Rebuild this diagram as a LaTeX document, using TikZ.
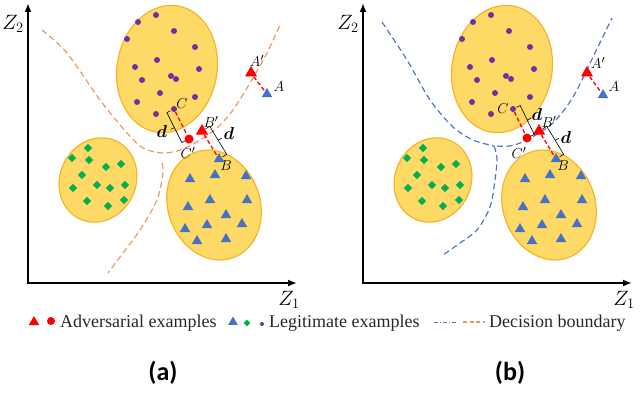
\documentclass[tikz,border=0pt]{standalone}
\usepackage{amsmath}
\usepackage{fontspec}
\setmainfont{Liberation Serif}
\newfontfamily\panelfont{Carlito}
\usetikzlibrary{shapes.geometric,arrows.meta,calc}

\definecolor{clusterfill}{RGB}{255,217,102}
\definecolor{clusterline}{RGB}{242,182,40}
\definecolor{legpurple}{RGB}{112,48,160}
\definecolor{leggreen}{RGB}{0,176,80}
\definecolor{legblue}{RGB}{68,114,196}
\definecolor{advred}{RGB}{255,0,0}
\definecolor{bndorange}{RGB}{238,150,100}
\definecolor{bndblue}{RGB}{80,120,200}

\tikzset{
  cluster/.style={fill=clusterfill, draw=clusterline, line width=1.2pt},
  axisline/.style={line width=2pt, {Latex[length=9pt,width=7pt]}-{Latex[length=9pt,width=7pt]}},
  purpledot/.style={circle, fill=legpurple, inner sep=0pt, minimum size=6pt},
  greendia/.style={diamond, fill=leggreen, inner sep=0pt, minimum size=8.5pt},
  bluetri/.style={regular polygon, regular polygon sides=3, fill=legblue, inner sep=0pt, minimum size=12pt},
  redtri/.style={regular polygon, regular polygon sides=3, fill=advred, inner sep=0pt, minimum size=14pt},
  reddot/.style={circle, fill=advred, inner sep=0pt, minimum size=9pt},
  advline/.style={advred, line width=1.3pt, dash pattern=on 4pt off 2.5pt},
  bracketline/.style={black, line width=0.6pt},
  bnda/.style={bndorange, line width=1.2pt, dash pattern=on 6pt off 3.5pt},
  bndb/.style={bndblue, line width=1.2pt, dash pattern=on 6pt off 3.5pt},
  ptlabel/.style={font=\fontsize{15}{15}\selectfont, inner sep=0pt},
  dlabel/.style={font=\fontsize{17}{17}\selectfont, inner sep=0pt},
  zlabel/.style={font=\fontsize{21}{21}\selectfont, inner sep=0pt},
  legtext/.style={font=\fontsize{18}{18}\selectfont, inner sep=0pt, anchor=west, text=black!85},
  panellabel/.style={font=\panelfont\bfseries\fontsize{26}{26}\selectfont, inner sep=0pt}
}

\begin{document}
\begin{tikzpicture}[x=1pt,y=-1pt]
    \useasboundingbox (0,0) rectangle (640,404);

    %% both panels share axes, clusters and legitimate points
    \foreach \dx/\p in {0/a,335/b}{
    \begin{scope}[shift={(\dx,0)}]
    \draw[cluster] (167,69) ellipse [x radius=50, y radius=64, rotate=-10];
    \draw[cluster] (98,180) ellipse [x radius=38, y radius=43, rotate=-25];
    \draw[cluster] (214,205) ellipse [x radius=46, y radius=56, rotate=20];
    \draw[axisline] (28,3) -- (28,283) -- (297,283);
    \node[zlabel] (z2\p) at (13,24) {$Z_2$};
    \node[zlabel] (z1\p) at (289,300) {$Z_1$};
    \foreach \x/\y [count=\i] in {138/22,156/15,174/31,127/39,195/47,157/60,135/67,199/69,142/80,171/76,176/79,160/93,195/97,137/102,156/114}{
    \node[purpledot] (pu\p\i) at (\x,\y) {};
    }
    \foreach \x/\y [count=\i] in {72/158,88/148,89/160,106/167,121/164,82/175,97/185,73/188,110/188,125/185,87/201,108/206,124/200}{
    \node[greendia] (gr\p\i) at (\x,\y) {};
    }
    \foreach \x/\y [count=\i] in {215/175,190/179,246/176,188/207,210/200,247/200,226/215,185/229,207/225,242/224,197/241,226/239}{
    \node[bluetri] (bl\p\i) at (\x,\y) {};
    }
    \end{scope}
    }

    %% panel (a): orange boundary
    \draw[bnda] plot[smooth] coordinates {(42,30) (67,53) (100,100) (127,133) (143,148) (162,153) (180,150) (200,140) (217,128) (233,110) (250,83) (267,53) (280,25)};
    \draw[bnda] plot[smooth] coordinates {(162,163) (163,173) (157,200) (140,230) (123,253) (108,273)};

    \node[bluetri] (Aa) at (267,94) {};
    \node[redtri] (Apa) at (251,73) {};
    \node[purpledot] (Ca) at (174,109) {};
    \node[reddot] (Cpa) at (189,139) {};
    \node[bluetri] (Ba) at (219,159) {};
    \node[redtri] (Bpa) at (202,131) {};
    \draw[advline] (Apa) -- (Aa);
    \draw[advline] (Ca) -- (Cpa);
    \draw[advline] (Bpa) -- (Ba);
    \node[ptlabel] (lApa) at (257,61) {$A'$};
    \node[ptlabel] (lAa) at (279,87) {$A$};
    \node[ptlabel] (lCa) at (182,104) {$C$};
    \node[ptlabel] (lCpa) at (188,153) {$C'$};
    \node[ptlabel] (lBpa) at (211,122) {$B'$};
    \node[ptlabel] (lBa) at (226,166) {$B$};

    \coordinate (ma) at ($(Ca)!0.5!(Cpa)$);
    \draw[bracketline] ($(Ca)!4pt!-90:(Cpa)$) -- ($(Ca)!8pt!-90:(Cpa)$) -- ($(Cpa)!8pt!90:(Ca)$) -- ($(Cpa)!4pt!90:(Ca)$);
    \draw[bracketline] ($(ma)!8pt!-90:(Cpa)$) -- ($(ma)!12pt!-90:(Cpa)$);
    \node[dlabel] (d1a) at (162,131) {$\boldsymbol{d}$};
    \coordinate (na) at ($(Bpa)!0.5!(Ba)$);
    \draw[bracketline] ($(Bpa)!4pt!90:(Ba)$) -- ($(Bpa)!9pt!90:(Ba)$) -- ($(Ba)!9pt!-90:(Bpa)$) -- ($(Ba)!4pt!-90:(Bpa)$);
    \draw[bracketline] ($(na)!9pt!90:(Ba)$) -- ($(na)!13pt!90:(Ba)$);
    \node[dlabel] (d2a) at (229,133) {$\boldsymbol{d}$};

    %% panel (b): blue boundary
    \draw[bndb] plot[smooth] coordinates {(382,22) (407,60) (430,100) (453,127) (473,140) (494,146)};
    \draw[bndb] plot[smooth] coordinates {(494,146) (497,158) (495,180) (490,207) (477,230) (460,243) (443,255)};
    \draw[bndb] plot[smooth] coordinates {(497,146) (510,146) (527,140) (553,123) (573,97) (593,57) (612,18)};

    \node[bluetri] (Ab) at (603,95) {};
    \node[redtri] (Apb) at (587,73) {};
    \node[purpledot] (Cb) at (513,109) {};
    \node[reddot] (Cpb) at (527,138) {};
    \node[bluetri] (Bb) at (556,159) {};
    \node[redtri] (Bpb) at (539,131) {};
    \draw[advline] (Apb) -- (Ab);
    \draw[advline] (Cb) -- (Cpb);
    \draw[advline] (Bpb) -- (Bb);
    \node[ptlabel] (lApb) at (598,63) {$A'$};
    \node[ptlabel] (lAb) at (614,87) {$A$};
    \node[ptlabel] (lCb) at (503,109) {$C$};
    \node[ptlabel] (lCpb) at (519,153) {$C'$};
    \node[ptlabel] (lBpb) at (549,122) {$B'$};
    \node[ptlabel] (lBb) at (563,166) {$B$};

    \coordinate (mb) at ($(Cb)!0.5!(Cpb)$);
    \draw[bracketline] ($(Cb)!4pt!90:(Cpb)$) -- ($(Cb)!8pt!90:(Cpb)$) -- ($(Cpb)!8pt!-90:(Cb)$) -- ($(Cpb)!4pt!-90:(Cb)$);
    \draw[bracketline] ($(mb)!8pt!90:(Cpb)$) -- ($(mb)!12pt!90:(Cpb)$);
    \node[dlabel] (d1b) at (537,115) {$\boldsymbol{d}$};
    \coordinate (nb) at ($(Bpb)!0.5!(Bb)$);
    \draw[bracketline] ($(Bpb)!4pt!90:(Bb)$) -- ($(Bpb)!9pt!90:(Bb)$) -- ($(Bb)!9pt!-90:(Bpb)$) -- ($(Bb)!4pt!-90:(Bpb)$);
    \draw[bracketline] ($(nb)!9pt!90:(Bb)$) -- ($(nb)!13pt!90:(Bb)$);
    \node[dlabel] (d2b) at (566,137) {$\boldsymbol{d}$};

    %% legend
    \node[redtri,minimum size=12pt] (lg1) at (34,322) {};
    \node[reddot,minimum size=8pt] (lg2) at (51,321) {};
    \node[legtext] (lgt1) at (60,323) {Adversarial examples};
    \node[bluetri,minimum size=11pt] (lg3) at (233,322) {};
    \node[greendia,minimum size=7pt] (lg4) at (247,323) {};
    \node[purpledot,minimum size=4pt] (lg5) at (262,324) {};
    \node[legtext] (lgt2) at (269,323) {Legitimate examples};
    \coordinate (lb1) at (434,322);
    \coordinate (lb2) at (458,322);
    \coordinate (lb3) at (463,322);
    \coordinate (lb4) at (485,322);
    \draw[bndblue, line width=1pt, dash pattern=on 4pt off 2pt on 1pt off 2pt] (lb1) -- (lb2);
    \draw[bndorange, line width=1.2pt, dash pattern=on 4pt off 2.5pt] (lb3) -- (lb4);
    \node[legtext] (lgt3) at (489,323) {Decision boundary};

    \node[panellabel] (pa) at (163,373) {(a)};
    \node[panellabel] (pb) at (510,373) {(b)};
\end{tikzpicture}
\end{document}
